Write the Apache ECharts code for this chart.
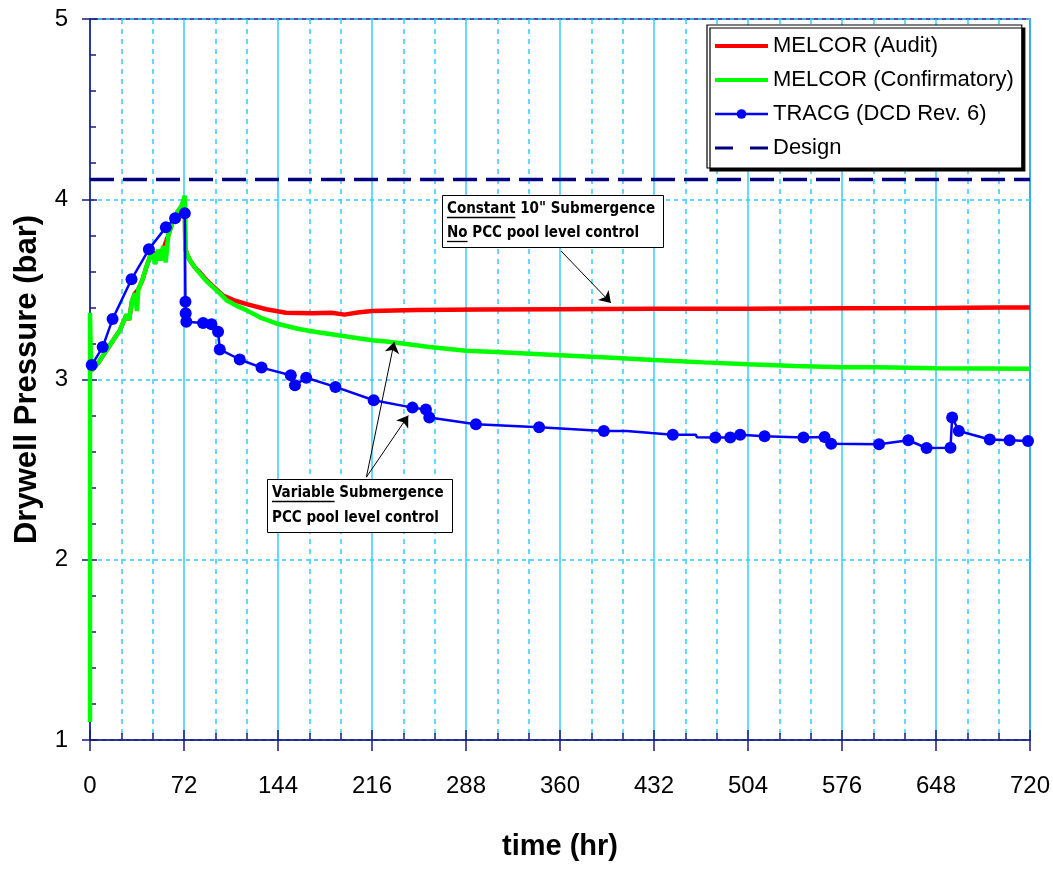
<!DOCTYPE html>
<html>
<head>
<meta charset="utf-8">
<script src="https://cdn.jsdelivr.net/npm/echarts@6/dist/echarts.min.js"></script>
<style>html,body{margin:0;padding:0;background:#fff}#c{width:1053px;height:869px}</style>
</head>
<body>
<div id="c"></div>
<script>
// ---------------- DATA ----------------
const seriesNames = ['MELCOR (Audit)', 'MELCOR (Confirmatory)', 'TRACG (DCD Rev. 6)', 'Design'];

// MELCOR (Audit): [time hr, pressure bar]
const auditData = [
  [0.8,3.05],[2.5,3.06],[7,3.1],[12.7,3.163],[18,3.22],[22.9,3.274],[28,3.36],[30,3.33],[32,3.43],
  [34.4,3.478],[37,3.50],[40,3.55],[43,3.62],[45.9,3.681],[48,3.70],[52,3.70],[56,3.72],[60,3.80],
  [63.7,3.885],[67,3.93],[70,3.96],[72.6,4.0],
  [73,3.73],[74,3.70],[76.4,3.663],[80,3.625],[84,3.595],[90,3.545],[96,3.505],[102,3.465],[110,3.44],[120,3.418],
  [135,3.39],[150,3.37],[170,3.368],[185,3.37],[195,3.36],[205,3.372],[216,3.38],[250,3.385],
  [300,3.388],[360,3.39],[432,3.392],[504,3.393],[576,3.395],[648,3.397],[700,3.40],[720,3.40]
];

// MELCOR (Confirmatory)
const confirmData = [
  [0,1.1],[0,3.37],[0.8,3.05],[2.5,3.06],[7,3.1],[12.7,3.163],[18,3.22],[22.9,3.274],[28,3.36],
  [30,3.33],[32,3.43],[34.4,3.478],[36,3.38],[37,3.50],[40,3.55],[43,3.62],[45.9,3.681],[48,3.70],
  [50,3.64],[52,3.72],[54,3.66],[56,3.74],[58,3.65],[60,3.80],[63.7,3.885],[67,3.93],[70,3.96],
  [72.6,4.02],[73,3.73],[74,3.70],[76.4,3.663],[80,3.625],[84,3.589],[90,3.54],[99.4,3.478],
  [104.5,3.44],[112,3.41],[119.8,3.385],[130,3.345],[142.7,3.311],[160,3.28],[173.2,3.264],
  [190,3.245],[216,3.218],[229,3.209],[260,3.18],[288,3.16],[311,3.153],[360,3.135],[400,3.12],
  [432,3.108],[470,3.095],[504,3.085],[540,3.075],[576,3.068],[602,3.068],[603,3.062],[648,3.062],[720,3.06]
];

// TRACG (DCD Rev. 6): [time, pressure, marker(1)/no marker(0)]
const tracgData = [
  [1.3,3.08,1],[9.7,3.18,1],[17.3,3.335,1],[31.8,3.556,1],[45.1,3.722,1],[58.1,3.844,1],[65.2,3.894,1],
  [72.6,3.922,1],[73.1,3.431,1],[73.3,3.367,1],[73.8,3.32,1],[86.6,3.314,1],[93,3.307,1],[98.1,3.265,1],
  [99.4,3.167,1],[114.7,3.111,1],[131.4,3.066,1],[153.8,3.024,1],[157,2.968,1],[165.6,3.01,1],
  [188,2.959,1],[217.3,2.885,1],[247,2.844,1],[257.3,2.833,1],[259.9,2.789,1],[295.6,2.752,1],
  [344,2.735,1],[393.6,2.714,1],[411,2.714,0],[412,2.703,0],[430,2.703,0],[446.4,2.694,1],
  [464,2.694,0],[465,2.679,0],[479,2.678,1],[490.4,2.678,1],[498,2.694,1],[516.7,2.685,1],
  [546.5,2.678,1],[562.6,2.681,1],[567.7,2.644,1],[604.4,2.641,1],[626.8,2.663,1],[640.8,2.62,1],
  [659.1,2.622,1],[660.4,2.789,1],[665.5,2.714,1],[689.2,2.667,1],[704.4,2.663,1],[718.5,2.659,1]
];

const designPressure = 4.11;
const timeRange = [0, 720];
const pressureRange = [1, 5];

// ---------------- CHART ----------------
const FONT = "'Liberation Sans', Arial, sans-serif";
const GRIDC = '#33ccff';
const AXISC = '#1a1a80';
const chart = echarts.init(document.getElementById('c'), null, {renderer: 'canvas'});

const option = {
  animation: false,
  backgroundColor: '#fff',
  grid: {left: 90, right: 21, top: 19, bottom: 129, show: true, borderColor: AXISC, borderWidth: 1.5, backgroundColor: 'transparent'},
  legend: {
    data: [
      {name: seriesNames[0], itemStyle: {opacity: 0}, lineStyle: {width: 4}},
      {name: seriesNames[1], itemStyle: {opacity: 0}, lineStyle: {width: 4}},
      {name: seriesNames[2], lineStyle: {width: 2.5}},
      {name: seriesNames[3], itemStyle: {opacity: 0}, lineStyle: {width: 3, type: [18, 17]}}
    ],
    orient: 'vertical', left: 707, top: 25,
    itemWidth: 53, itemHeight: 12, itemGap: 12, itemTextGap: 5,
    padding: [10, 8, 9, 6],
    backgroundColor: '#fff', borderColor: '#000', borderWidth: 1.2,
    shadowColor: '#000', shadowOffsetX: 3, shadowOffsetY: 3, shadowBlur: 0,
    textStyle: {fontSize: 22, fontFamily: FONT, color: '#000'},
    selectedMode: false
  },
  xAxis: [{
    type: 'value', min: timeRange[0], max: timeRange[1], interval: 72,
    name: 'time (hr)', nameLocation: 'middle', nameGap: 92,
    nameTextStyle: {fontSize: 29, fontWeight: 'bold', fontFamily: FONT, color: '#000'},
    axisLine: {show: true, onZero: false, lineStyle: {color: AXISC, width: 1.5}},
    axisTick: {show: true, inside: false, length: 11, lineStyle: {color: AXISC, width: 1.5}},
    minorTick: {show: false, splitNumber: 3},
    axisLabel: {fontSize: 24, fontFamily: FONT, color: '#000', margin: 34},
    splitLine: {show: true, lineStyle: {color: GRIDC, width: 1.5, type: 'solid'}},
    minorSplitLine: {show: true, lineStyle: {color: GRIDC, width: 1.5, type: [5, 5]}}
  }, {
    type: 'value', min: timeRange[0], max: timeRange[1], interval: 72, position: 'bottom',
    axisLine: {show: false}, axisLabel: {show: false}, splitLine: {show: false},
    axisTick: {show: true, inside: true, length: 10, lineStyle: {color: AXISC, width: 1.5}},
    minorTick: {show: true, splitNumber: 3, length: 7, lineStyle: {color: AXISC, width: 1.5}}
  }],
  yAxis: [{
    type: 'value', min: pressureRange[0], max: pressureRange[1], interval: 1,
    name: 'Drywell Pressure (bar)', nameLocation: 'middle', nameGap: 47,
    nameTextStyle: {fontSize: 31, fontWeight: 'bold', fontFamily: FONT, color: '#000'},
    axisLine: {show: true, onZero: false, lineStyle: {color: AXISC, width: 1.5}},
    axisTick: {show: true, inside: false, length: 8, lineStyle: {color: AXISC, width: 1.5}},
    minorTick: {show: false, splitNumber: 5},
    axisLabel: {fontSize: 24, fontFamily: FONT, color: '#000', margin: 22},
    splitLine: {show: true, lineStyle: {color: GRIDC, width: 1.5, type: [4, 4]}},
    minorSplitLine: {show: false}
  }, {
    type: 'value', min: pressureRange[0], max: pressureRange[1], interval: 1, position: 'left',
    axisLine: {show: false}, axisLabel: {show: false}, splitLine: {show: false},
    axisTick: {show: true, inside: true, length: 7, lineStyle: {color: AXISC, width: 1.5}},
    minorTick: {show: true, splitNumber: 5, length: 6, lineStyle: {color: AXISC, width: 1.5}}
  }],
  series: [
    {
      name: seriesNames[0], type: 'line', data: auditData, symbol: 'none',
      lineStyle: {color: '#ff0000', width: 4.5}, itemStyle: {color: '#ff0000'}, z: 3
    },
    {
      name: seriesNames[1], type: 'line', data: confirmData, symbol: 'none',
      lineStyle: {color: '#00ff00', width: 4.5}, itemStyle: {color: '#00ff00'}, z: 4
    },
    {
      name: seriesNames[2], type: 'line',
      data: tracgData.map(d => ({value: [d[0], d[1]], symbol: d[2] ? 'circle' : 'none'})),
      symbol: 'circle', symbolSize: 12, showAllSymbol: true,
      lineStyle: {color: '#0000ff', width: 2.5}, itemStyle: {color: '#0000ff'}, z: 5
    },
    {
      name: seriesNames[3], type: 'line',
      data: [[timeRange[0], designPressure], [timeRange[1], designPressure]], symbol: 'none',
      lineStyle: {color: '#000080', width: 3.5, type: [24, 9]}, itemStyle: {color: '#000080'}, z: 2,
      markLine: {
        silent: true, symbol: ['none', 'arrow'], symbolSize: 11, animation: false,
        label: {show: false},
        lineStyle: {color: '#000', width: 1, type: 'solid'},
        itemStyle: {color: '#000'},
        emphasis: {disabled: true},
        data: [
          [{coord: [360.8, 3.713]}, {coord: [399, 3.425]}],
          [{coord: [211.7, 2.458]}, {coord: [233, 3.208]}],
          [{coord: [211.7, 2.458]}, {coord: [243.8, 2.80]}]
        ]
      }
    }
  ]
};
chart.setOption(option);

// ---------------- ANNOTATION BOXES ----------------
const ANN_FAMILY = "'DejaVu Sans Condensed','Liberation Sans Narrow','DejaVu Sans',sans-serif";
const ANN_SIZE = 15;
const cv = document.createElement('canvas').getContext('2d');
function tw(s) { cv.font = 'bold ' + ANN_SIZE + 'px ' + ANN_FAMILY; return cv.measureText(s).width; }

function makeBox(anchor, lines, lineStep) {
  const p = chart.convertToPixel({xAxisIndex: 0, yAxisIndex: 0}, anchor);
  const X = Math.round(p[0]), Y = Math.round(p[1]);
  const padL = 5, padR = 8;
  let maxW = 0;
  lines.forEach(l => { maxW = Math.max(maxW, tw(l[0] + l[1])); });
  const W = Math.round(maxW + padL + padR);
  const H = 14 + lineStep * (lines.length - 1) + 14;
  const els = [{
    type: 'rect', shape: {x: X + 0.5, y: Y + 0.5, width: W, height: H},
    style: {fill: '#fff', stroke: '#000', lineWidth: 1}, z: 100
  }];
  lines.forEach((l, i) => {
    const cy = Y + 14 + i * lineStep;
    els.push({
      type: 'text', x: X + padL, y: cy, z: 101,
      style: {text: l[0] + l[1], fill: '#000', fontSize: ANN_SIZE, fontWeight: 'bold', fontFamily: ANN_FAMILY, verticalAlign: 'middle', align: 'left'}
    });
    if (l[0]) {
      els.push({
        type: 'line', z: 101,
        shape: {x1: X + padL, y1: cy + 8.5, x2: X + padL + tw(l[0]), y2: cy + 8.5},
        style: {stroke: '#000', lineWidth: 1.3}
      });
    }
  });
  return els;
}

const graphics = []
  .concat(makeBox([269.8, 4.025], [['Constant', ' 10" Submergence'], ['No', ' PCC pool level control']], 24))
  .concat(makeBox([135.3, 2.448], [['Variable', ' Submergence'], ['', 'PCC pool level control']], 25));
chart.setOption({graphic: graphics});
</script>
</body>
</html>
